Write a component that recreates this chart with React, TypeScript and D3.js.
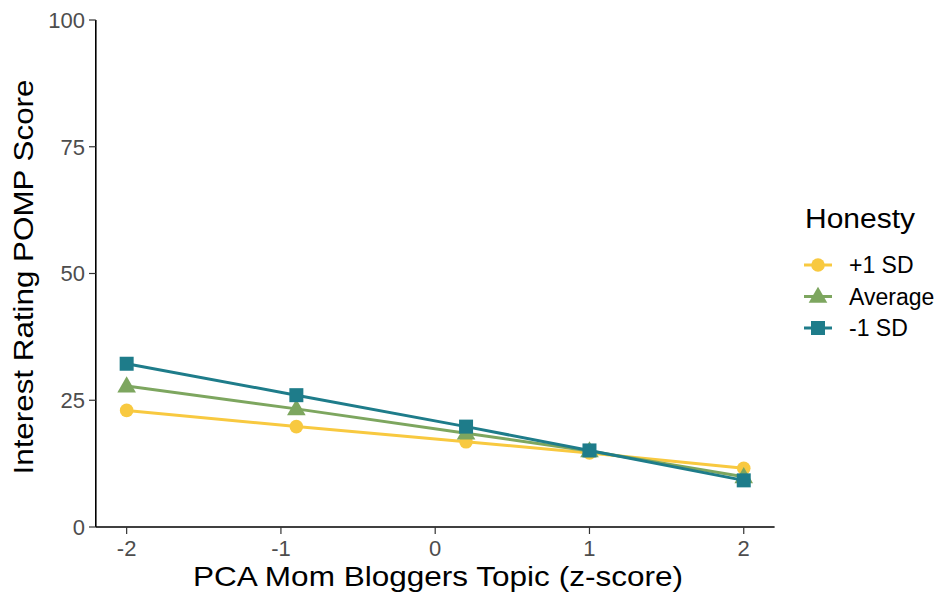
import React from "react";
import * as d3 from "d3";

const xValues = [-2, -0.9, 0.2, 1, 2];
const seriesNames = ["+1 SD", "Average", "-1 SD"];
const plusOneSD = [23.0, 19.8, 16.8, 14.6, 11.6];
const average = [27.8, 23.3, 18.5, 15.0, 9.9];
const minusOneSD = [32.2, 26.0, 19.8, 15.1, 9.2];
const xTicks = [-2, -1, 0, 1, 2];
const yTicks = [0, 25, 50, 75, 100];
const colors = ["#F8C940", "#7DA65F", "#1E7C8A"];
const shapes = ["circle", "triangle", "square"];

const W = 943;
const H = 595;

function Marker({ shape, x, y, color }: { shape: string; x: number; y: number; color: string }) {
  if (shape === "circle") return <circle cx={x} cy={y} r={6.8} fill={color} />;
  if (shape === "triangle") {
    const s = d3.symbol(d3.symbolTriangle, 150)();
    return <path d={s as string} transform={`translate(${x},${y + 1})`} fill={color} />;
  }
  return <rect x={x - 7} y={y - 7} width={14} height={14} fill={color} />;
}

export default function App() {
  const x = d3.scaleLinear().domain([-2.2, 2.2]).range([95.8, 774.6]);
  const y = d3.scaleLinear().domain([0, 100]).range([527, 20]);
  const data = [plusOneSD, average, minusOneSD];
  const line = d3
    .line<number>()
    .x((_, i) => x(xValues[i]))
    .y((d) => y(d));
  const font = "'Liberation Sans', Arial, Helvetica, sans-serif";

  return (
    <svg width={W} height={H} style={{ position: "absolute", left: 0, top: 0 }} fontFamily={font}>
      <rect width={W} height={H} fill="white" />
      {/* axes */}
      <line x1={95.8} x2={95.8} y1={20} y2={527} stroke="black" strokeWidth={1.6} />
      <line x1={95.8} x2={774.6} y1={527} y2={527} stroke="black" strokeWidth={1.6} />
      {yTicks.map((t) => (
        <g key={t}>
          <line x1={89} x2={95.8} y1={y(t)} y2={y(t)} stroke="#333" strokeWidth={1.2} />
          <text x={85} y={y(t)} dy="0.36em" textAnchor="end" fontSize={22} fill="#4D4D4D">
            {t}
          </text>
        </g>
      ))}
      {xTicks.map((t) => (
        <g key={t}>
          <line x1={x(t)} x2={x(t)} y1={527} y2={534} stroke="#333" strokeWidth={1.2} />
          <text x={x(t)} y={556} textAnchor="middle" fontSize={22} fill="#4D4D4D">
            {t}
          </text>
        </g>
      ))}
      <text
        x={438}
        y={586}
        textAnchor="middle"
        fontSize={28}
        fill="black"
        textLength={490}
        lengthAdjust="spacingAndGlyphs"
      >
        PCA Mom Bloggers Topic (z-score)
      </text>
      <text
        transform={`translate(33,277) rotate(-90)`}
        textAnchor="middle"
        fontSize={28}
        fill="black"
        textLength={395}
        lengthAdjust="spacingAndGlyphs"
      >
        Interest Rating POMP Score
      </text>
      {/* series */}
      {data.map((s, k) => (
        <g key={k}>
          <path d={line(s) as string} fill="none" stroke={colors[k]} strokeWidth={3} />
          {s.map((v, i) => (
            <Marker key={i} shape={shapes[k]} x={x(xValues[i])} y={y(v)} color={colors[k]} />
          ))}
        </g>
      ))}
      {/* legend */}
      <text x={805} y={228} fontSize={27} fill="black" textLength={110} lengthAdjust="spacingAndGlyphs">
        Honesty
      </text>
      {seriesNames.map((n, k) => {
        const cy = 265 + k * 31.5;
        return (
          <g key={n}>
            <line x1={804} x2={832} y1={cy} y2={cy} stroke={colors[k]} strokeWidth={3} />
            <Marker shape={shapes[k]} x={818} y={cy} color={colors[k]} />
            <text x={849} y={cy} dy="0.36em" fontSize={23} fill="black">
              {n}
            </text>
          </g>
        );
      })}
    </svg>
  );
}
